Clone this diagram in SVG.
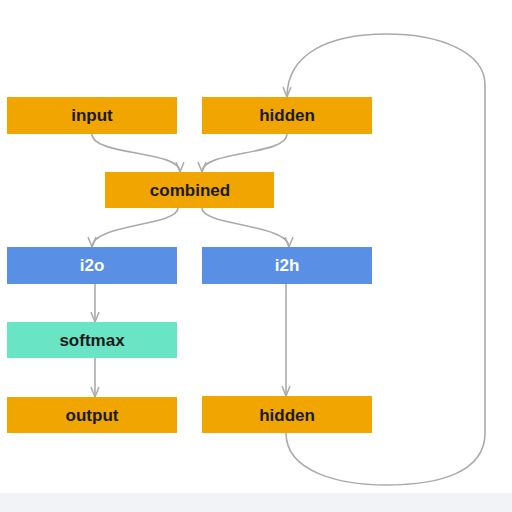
<svg xmlns="http://www.w3.org/2000/svg" width="512" height="512" viewBox="0 0 512 512">
<style>
.o{fill:#f0a500}
.b{fill:#5990e6}
.t{fill:#69e4c4}
.l{font-family:"Liberation Sans",Arial,sans-serif;font-weight:bold;font-size:17px;text-anchor:middle;fill:#1a1a1a}
.w{fill:#ffffff}
.c{fill:none;stroke:#aaaaaa;stroke-width:1.6}
</style>
<defs>
<marker id="ah" viewBox="0 0 10 10" refX="10" refY="5" markerWidth="10" markerHeight="10" markerUnits="userSpaceOnUse" orient="auto">
<path d="M0,1 L10,5 L0,9" fill="none" stroke="#aaaaaa" stroke-width="1.5"/>
</marker>
</defs>
<rect x="0" y="0" width="512" height="512" fill="#ffffff"/>
<rect x="0" y="493" width="512" height="19" fill="#f2f3f7"/>
<g id="connectors">
<path class="c" d="M92,134 C92,156 180,150 180,172" marker-end="url(#ah)"/>
<path class="c" d="M287,134 C287,156 202,150 202,172" marker-end="url(#ah)"/>
<path class="c" d="M178,208 C178,226 92,224 92,247" marker-end="url(#ah)"/>
<path class="c" d="M202,208 C202,226 289,224 289,247" marker-end="url(#ah)"/>
<path class="c" d="M95,284 L95,322" marker-end="url(#ah)"/>
<path class="c" d="M95,358 L95,397" marker-end="url(#ah)"/>
<path class="c" d="M286,284 L286,396" marker-end="url(#ah)"/>
<path class="c" d="M286,433 C286,472 340,485 386,485 C440,485 485,472 485,433 L485,85 C485,52 440,34 386,34 C332,34 287,52 287,97" marker-end="url(#ah)"/>
</g>
<g id="input"><rect class="o" x="7" y="97" width="170" height="37"/><text class="l" x="92" y="121">input</text></g>
<g id="hidden_top"><rect class="o" x="202" y="97" width="170" height="37"/><text class="l" x="287" y="121">hidden</text></g>
<g id="combined"><rect class="o" x="105" y="172" width="169" height="36"/><text class="l" x="190" y="196">combined</text></g>
<g id="i2o"><rect class="b" x="7" y="247" width="170" height="37"/><text class="l w" x="92" y="271">i2o</text></g>
<g id="i2h"><rect class="b" x="202" y="247" width="170" height="37"/><text class="l w" x="287" y="271">i2h</text></g>
<g id="softmax"><rect class="t" x="7" y="322" width="170" height="36"/><text class="l" x="92" y="346">softmax</text></g>
<g id="output"><rect class="o" x="7" y="397" width="170" height="36"/><text class="l" x="92" y="421">output</text></g>
<g id="hidden_bottom"><rect class="o" x="202" y="396" width="170" height="37"/><text class="l" x="287" y="421">hidden</text></g>
</svg>
